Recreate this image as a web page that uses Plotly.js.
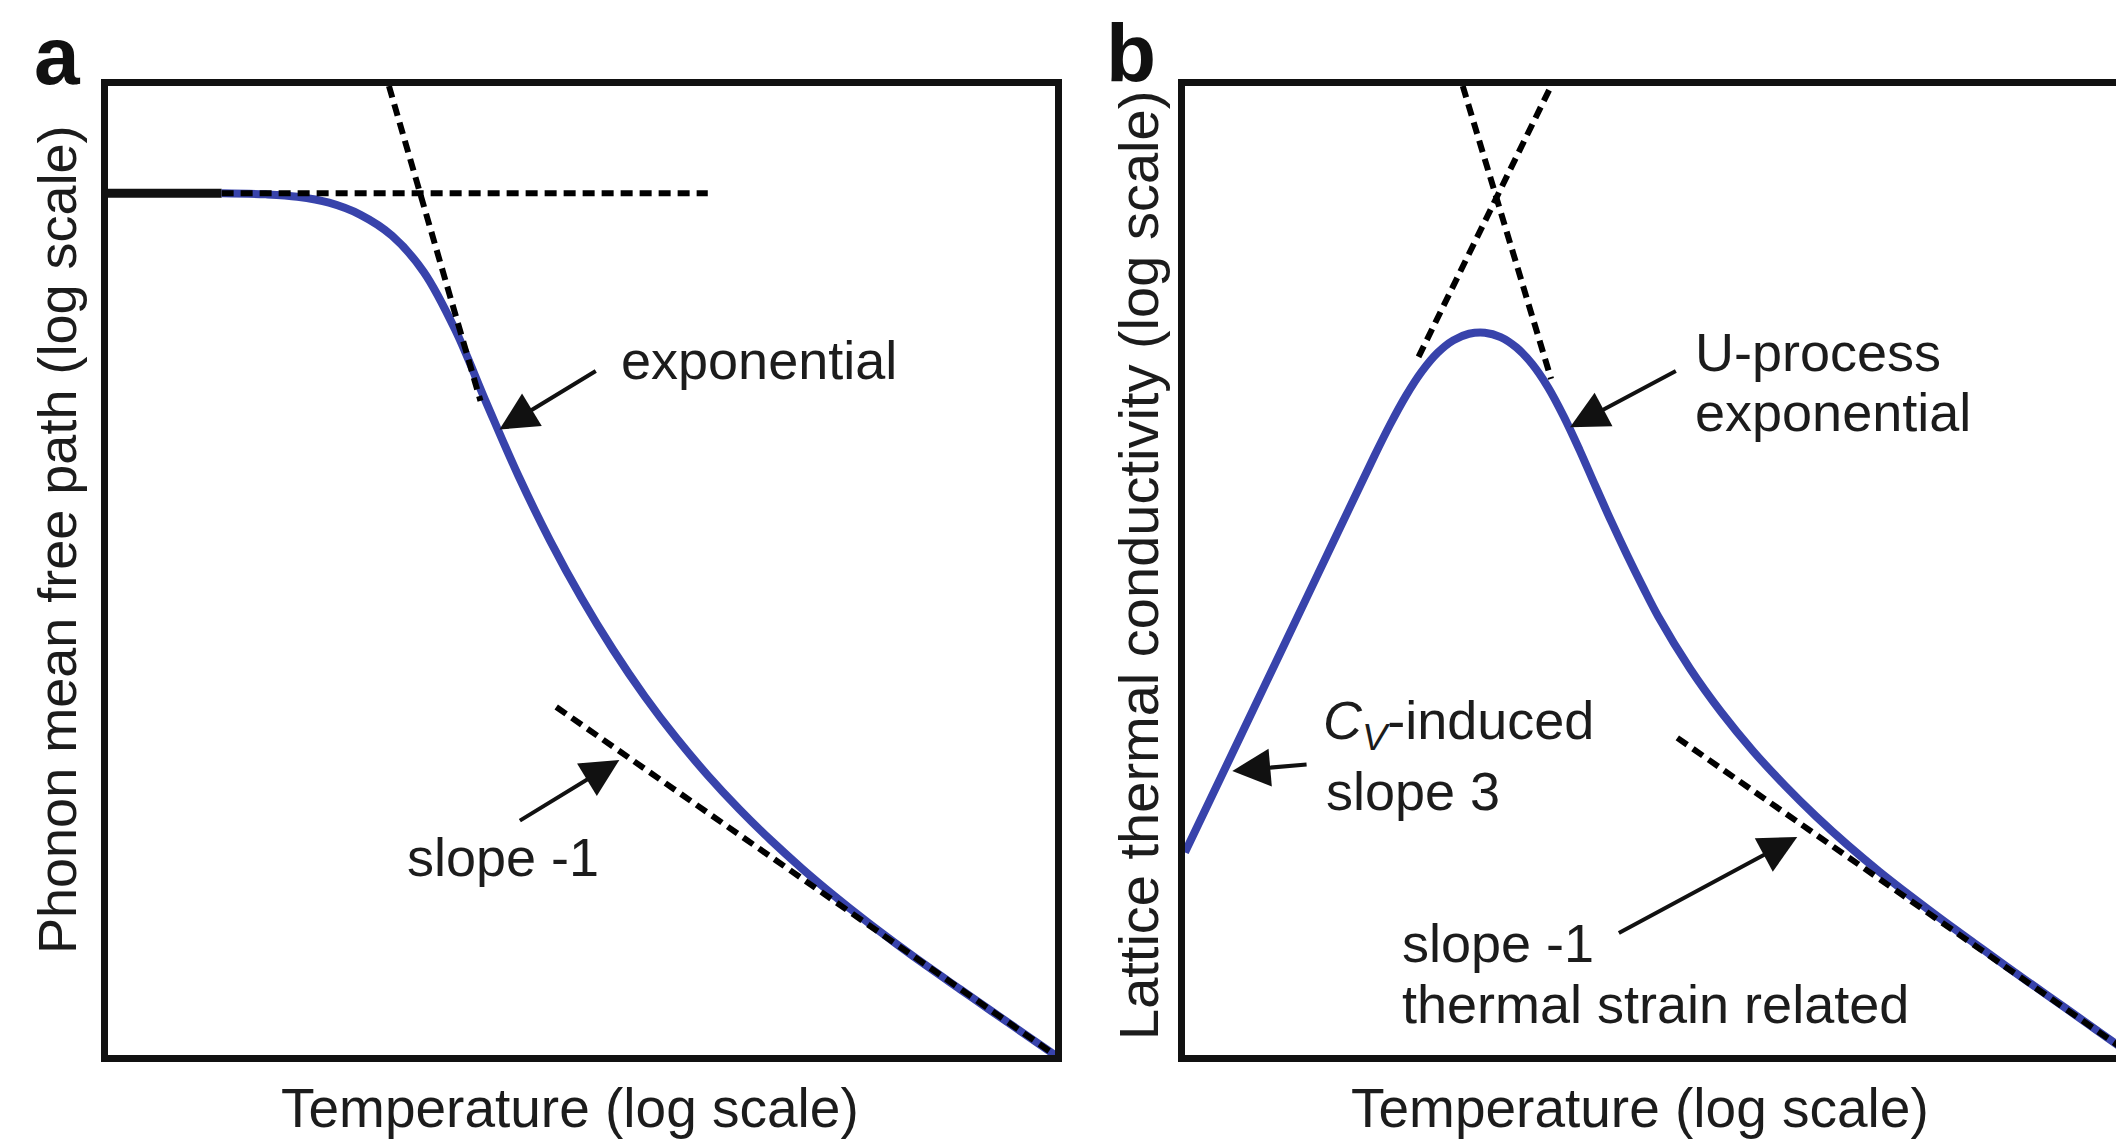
<!DOCTYPE html>
<html>
<head>
<meta charset="utf-8">
<script src="https://cdn.plot.ly/plotly-3.0.1.min.js"></script>
<style>
  html, body { margin: 0; padding: 0; background: #ffffff; overflow: hidden; }
  #chart { width: 2116px; height: 1145px; }
</style>
</head>
<body>
<div id="chart"></div>
<script>
// ---------- Panel a : phonon mean free path vs temperature (log10 units) ----------
const logT_a = [0.36, 0.50, 0.60, 0.70, 0.80, 0.90, 1.00, 1.10, 1.20, 1.30,
                1.40, 1.50, 1.60, 1.70, 1.80, 1.90, 2.00, 2.10, 2.20, 2.30,
                2.40, 2.50, 2.60, 2.70, 2.80, 2.90, 3.00];
const logMFP_a = [3.913, 3.908, 3.897, 3.870, 3.815, 3.720, 3.556, 3.293, 2.957, 2.630,
                  2.337, 2.075, 1.840, 1.629, 1.440, 1.270, 1.116, 0.975, 0.845, 0.724,
                  0.610, 0.502, 0.398, 0.298, 0.198, 0.099, 0.000];
const plateauT_a = [0.00, 0.36];
const plateauMFP_a = [3.913, 3.913];
const guideFlatT_a = [0.36, 1.90];
const guideFlatMFP_a = [3.913, 3.913];
const guideExpT_a = [0.89, 1.18];
const guideExpMFP_a = [4.40, 2.97];
const guideSlopeT_a = [1.42, 3.00];
const guideSlopeMFP_a = [1.58, 0.00];

// ---------- Panel b : lattice thermal conductivity vs temperature (log10 units) ----------
const logT_b = [0.00, 0.20, 0.40, 0.60, 0.65, 0.70, 0.75, 0.80, 0.85, 0.90,
                0.95, 1.00, 1.05, 1.10, 1.15, 1.20, 1.25, 1.30, 1.35, 1.40,
                1.45, 1.50, 1.60, 1.70, 1.80, 1.90, 2.00, 2.10, 2.20, 2.30,
                2.40, 2.50, 2.60, 2.70, 2.80, 2.90, 3.00];
const logK_b = [0.920, 1.520, 2.120, 2.720, 2.863, 2.993, 3.103, 3.188, 3.245, 3.275,
                3.280, 3.260, 3.213, 3.138, 3.033, 2.900, 2.748, 2.585, 2.425, 2.273,
                2.128, 1.990, 1.755, 1.555, 1.380, 1.225, 1.083, 0.953, 0.833, 0.721,
                0.613, 0.509, 0.405, 0.304, 0.203, 0.101, 0.000];
const guideCvT_b = [0.74, 1.16];
const guideCvK_b = [3.17, 4.40];
const guideUT_b = [0.88, 1.16];
const guideUK_b = [4.40, 3.07];
const guideSlopeT_b = [1.56, 3.00];
const guideSlopeK_b = [1.44, 0.00];

// ---------- Text ----------
const panelLabels = ['a', 'b'];
const yTitles = ['Phonon mean free path (log scale)', 'Lattice thermal conductivity (log scale)'];
const xTitles = ['Temperature (log scale)', 'Temperature (log scale)'];
const notesA = ['exponential', 'slope -1'];
const notesB = ['U-process', 'exponential', '<i>C</i><sub><i>V</i></sub>-induced', 'slope 3', 'slope -1', 'thermal strain related'];

// ---------- Styling ----------
const FONT = 'Liberation Sans, Arial, Helvetica, sans-serif';
const BLUE = '#3843ab';
const DASH = '12px,7px';
const W = 2116, H = 1145;

function curve(x, y, xa, ya) {
  return {x: x, y: y, xaxis: xa, yaxis: ya, mode: 'lines', type: 'scatter',
          line: {color: BLUE, width: 8, shape: 'spline', smoothing: 1}, hoverinfo: 'skip'};
}
function guide(x, y, xa, ya) {
  return {x: x, y: y, xaxis: xa, yaxis: ya, mode: 'lines', type: 'scatter',
          line: {color: '#000000', width: 6, dash: DASH}, hoverinfo: 'skip'};
}

const data = [
  {x: plateauT_a, y: plateauMFP_a, xaxis: 'x', yaxis: 'y', mode: 'lines', type: 'scatter',
   line: {color: '#111111', width: 9}, hoverinfo: 'skip'},
  curve(logT_a, logMFP_a, 'x', 'y'),
  guide(guideFlatT_a, guideFlatMFP_a, 'x', 'y'),
  guide(guideExpT_a, guideExpMFP_a, 'x', 'y'),
  guide(guideSlopeT_a, guideSlopeMFP_a, 'x', 'y'),
  curve(logT_b, logK_b, 'x2', 'y2'),
  guide(guideCvT_b, guideCvK_b, 'x2', 'y2'),
  guide(guideUT_b, guideUK_b, 'x2', 'y2'),
  guide(guideSlopeT_b, guideSlopeK_b, 'x2', 'y2')
];

function axisStyle(domain, range) {
  return {domain: domain, range: range, showgrid: false, zeroline: false,
          showticklabels: false, ticks: '', showline: true, mirror: true,
          linecolor: '#111111', linewidth: 7, fixedrange: true};
}

const yDom = [1 - 1055 / H, 1 - 86 / H];

const textFont = {family: FONT, size: 54, color: '#1c1c1c'};
function note(text, x, y, xref, yref) {
  return {text: text, x: x, y: y, xref: xref, yref: yref, showarrow: false,
          xanchor: 'left', yanchor: 'middle', font: textFont};
}
function arrow(x, y, ax, ay, xref, yref) {
  return {text: '', x: x, y: y, ax: ax, ay: ay, xref: xref, yref: yref,
          axref: xref, ayref: yref, showarrow: true, arrowhead: 2,
          arrowsize: 1.9, arrowwidth: 4, arrowcolor: '#111111', standoff: 0, startstandoff: 0};
}
function title(text, px, py, angle, size) {
  return {text: text, x: px / W, y: 1 - py / H, xref: 'paper', yref: 'paper',
          showarrow: false, xanchor: 'center', yanchor: 'middle', textangle: angle,
          font: {family: FONT, size: size, color: '#1c1c1c'}};
}

const annotations = [
  // panel letters
  {text: '<b>' + panelLabels[0] + '</b>', x: 57 / W, y: 1 - 55 / H, xref: 'paper', yref: 'paper',
   showarrow: false, xanchor: 'center', yanchor: 'middle', font: {family: FONT, size: 82, color: '#111111'}},
  {text: '<b>' + panelLabels[1] + '</b>', x: 1131 / W, y: 1 - 53 / H, xref: 'paper', yref: 'paper',
   showarrow: false, xanchor: 'center', yanchor: 'middle', font: {family: FONT, size: 82, color: '#111111'}},
  // axis titles
  title(yTitles[0], 57, 540, -90, 54),
  title(yTitles[1], 1138, 566, -90, 56),
  title(xTitles[0], 570, 1108, 0, 55),
  title(xTitles[1], 1640, 1108, 0, 55),
  // panel a notes
  note(notesA[0], 1.62, 3.155, 'x', 'y'),
  arrow(1.24, 2.84, 1.55, 3.11, 'x', 'y'),
  note(notesA[1], 0.94, 0.90, 'x', 'y'),
  arrow(1.62, 1.34, 1.30, 1.06, 'x', 'y'),
  // panel b notes
  note(notesB[0], 1.61, 3.19, 'x2', 'y2'),
  note(notesB[1], 1.61, 2.92, 'x2', 'y2'),
  arrow(1.22, 2.85, 1.56, 3.11, 'x2', 'y2'),
  note(notesB[2], 0.43, 1.505, 'x2', 'y2'),
  note(notesB[3], 0.44, 1.200, 'x2', 'y2'),
  arrow(0.15, 1.29, 0.39, 1.32, 'x2', 'y2'),
  note(notesB[4], 0.68, 0.51, 'x2', 'y2'),
  note(notesB[5], 0.68, 0.23, 'x2', 'y2'),
  arrow(1.94, 0.99, 1.37, 0.55, 'x2', 'y2')
];

const layout = {
  width: W, height: H,
  margin: {l: 0, r: 0, t: 0, b: 0, pad: 0},
  paper_bgcolor: '#ffffff', plot_bgcolor: '#ffffff',
  showlegend: false,
  font: {family: FONT},
  xaxis: Object.assign(axisStyle([108 / W, 1055 / W], [0, 3]), {anchor: 'y'}),
  yaxis: Object.assign(axisStyle(yDom, [0, 4.4]), {anchor: 'x'}),
  xaxis2: Object.assign(axisStyle([1185 / W, 1], [0, 2.95]), {anchor: 'y2'}),
  yaxis2: Object.assign(axisStyle(yDom, [0, 4.4]), {anchor: 'x2'}),
  annotations: annotations
};

Plotly.newPlot('chart', data, layout, {staticPlot: true, displayModeBar: false});
</script>
</body>
</html>
